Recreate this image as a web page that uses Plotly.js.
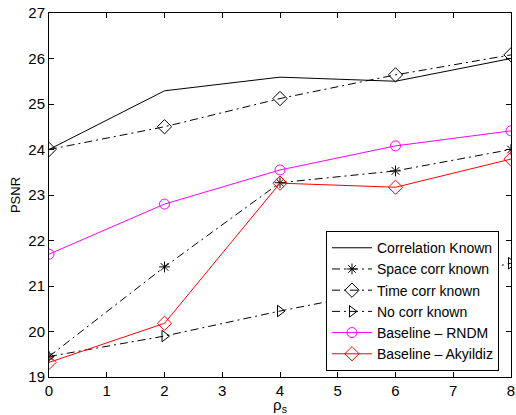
<!DOCTYPE html>
<html><head><meta charset="utf-8">
<script src="https://cdn.plot.ly/plotly-3.0.1.min.js"></script>
<style>body{margin:0;background:#fff}#c{width:516px;height:415px}</style>
</head><body><div id="c"></div>
<script>
const rho = [0, 2, 4, 6, 8];
const corrKnown = [24.0, 25.29, 25.59, 25.5, 26.0];
const spaceKnown = [19.45, 21.42, 23.27, 23.53, 24.0];
const timeKnown = [24.0, 24.5, 25.12, 25.64, 26.08];
const noCorr = [19.45, 19.9, 20.45, 20.95, 21.5];
const rndm = [21.7, 22.8, 23.55, 24.08, 24.41];
const akyildiz = [19.32, 20.18, 23.26, 23.17, 23.79];

const dd = '8px,4px,2px,4px';
const traces = [
  {x: rho, y: corrKnown, name: 'Correlation Known', mode: 'lines', line: {color: 'black', width: 1}},
  {x: rho, y: spaceKnown, name: 'Space corr known', mode: 'lines+markers', line: {color: 'black', width: 1, dash: dd}, marker: {symbol: 'asterisk-open', size: 9, color: 'black', line: {color: 'black', width: 1}}},
  {x: rho, y: timeKnown, name: 'Time corr known', mode: 'lines+markers', line: {color: 'black', width: 1, dash: dd}, marker: {symbol: 'diamond-open', size: 11, color: 'black', line: {color: 'black', width: 1}}},
  {x: rho, y: noCorr, name: 'No corr known', mode: 'lines+markers', line: {color: 'black', width: 1, dash: dd}, marker: {symbol: 'triangle-right-open', size: 10, color: 'black', line: {color: 'black', width: 1}}},
  {x: rho, y: rndm, name: 'Baseline \u2013 RNDM', mode: 'lines+markers', line: {color: '#ff00ff', width: 1}, marker: {symbol: 'circle-open', size: 10, color: '#ff00ff', line: {color: '#ff00ff', width: 1}}},
  {x: rho, y: akyildiz, name: 'Baseline \u2013 Akyildiz', mode: 'lines+markers', line: {color: '#ff0000', width: 1}, marker: {symbol: 'diamond-open', size: 11, color: '#ff0000', line: {color: '#ff0000', width: 1}}}
];
const font = {family: 'Liberation Sans, Arial, sans-serif', size: 15, color: 'black'};
const layout = {
  width: 516, height: 415,
  margin: {l: 49, r: 5, t: 13, b: 38},
  paper_bgcolor: 'white', plot_bgcolor: 'white',
  font: font,
  showlegend: true,
  legend: {x: 0.974, y: 0.016, xanchor: 'right', yanchor: 'bottom', bgcolor: 'white', bordercolor: 'black', borderwidth: 1, font: {family: font.family, size: 14, color: 'black'}, tracegroupgap: 0, itemwidth: 40},
  xaxis: {range: [0, 8], dtick: 1, tick0: 0, ticks: 'inside', ticklen: 5, tickcolor: 'black', showline: true, linecolor: 'black', linewidth: 1, mirror: 'ticks', showgrid: false, zeroline: false,
    title: {text: '\u03c1<sub>s</sub>', font: font, standoff: 8}},
  yaxis: {range: [19, 27], dtick: 1, tick0: 19, ticks: 'inside', ticklen: 5, tickcolor: 'black', showline: true, linecolor: 'black', linewidth: 1, mirror: 'ticks', showgrid: false, zeroline: false,
    title: {text: 'PSNR', font: {family: font.family, size: 13, color: 'black'}, standoff: 4}}
};
Plotly.newPlot('c', traces, layout, {displayModeBar: false, staticPlot: true});
</script></body></html>
